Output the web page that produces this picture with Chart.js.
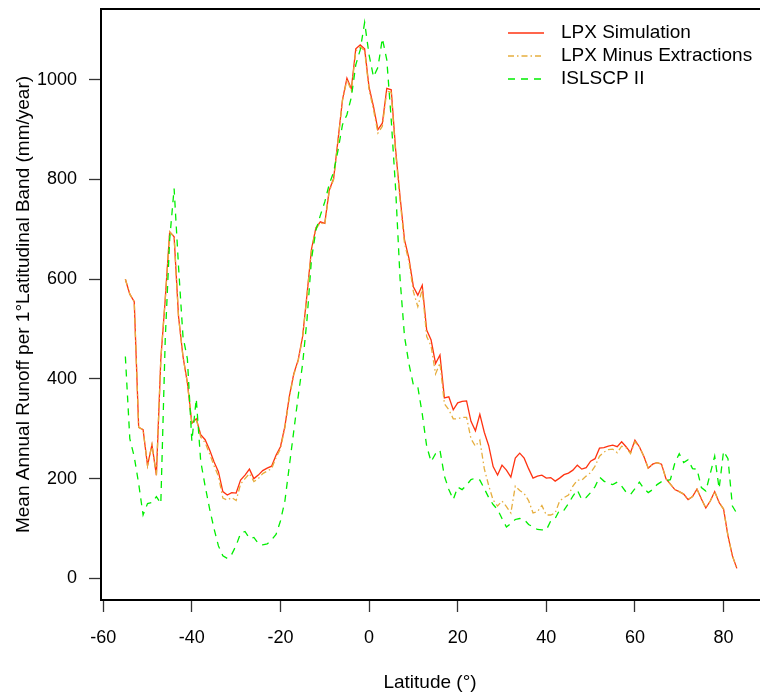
<!DOCTYPE html>
<html>
<head>
<meta charset="utf-8">
<script src="https://cdn.jsdelivr.net/npm/chart.js@4.4.1/dist/chart.umd.min.js"></script>
<style>
  html, body { margin: 0; padding: 0; background: #fff; overflow: hidden; }
  #wrap { width: 760px; height: 694px; }
</style>
</head>
<body>
<div id="wrap"><canvas id="runoffChart" width="760" height="694"></canvas></div>
<script>
// latitude bands, 1 degree each
var latitude = [
  -55,-54,-53,-52,-51,-50,-49,-48,-47,-46,
  -45,-44,-43,-42,-41,-40,-39,-38,-37,-36,
  -35,-34,-33,-32,-31,-30,-29,-28,-27,-26,
  -25,-24,-23,-22,-21,-20,-19,-18,-17,-16,
  -15,-14,-13,-12,-11,-10,-9,-8,-7,-6,
  -5,-4,-3,-2,-1,0,1,2,3,4,
  5,6,7,8,9,10,11,12,13,14,
  15,16,17,18,19,20,21,22,23,24,
  25,26,27,28,29,30,31,32,33,34,
  35,36,37,38,39,40,41,42,43,44,
  45,46,47,48,49,50,51,52,53,54,
  55,56,57,58,59,60,61,62,63,64,
  65,66,67,68,69,70,71,72,73,74,
  75,76,77,78,79,80,81,82,83
];

var lpxSimulation = [
  600,570,555,303,298,226,268,207,440,560,
  695,685,525,445,392,311,320,288,278,258,
  234,214,174,167,172,171,197,207,219,200,
  207,216,221,225,247,264,305,365,410,438,
  485,570,660,703,715,712,778,802,880,960,
  1003,982,1062,1070,1062,985,946,900,913,983,
  980,859,765,679,642,585,568,588,498,478,
  431,448,362,364,338,352,355,356,315,296,
  329,293,266,224,207,227,217,203,241,251,
  241,220,201,205,207,201,202,195,201,208,
  211,217,227,219,222,235,240,261,262,265,
  267,264,274,264,252,277,264,245,221,229,
  232,229,200,189,178,174,169,158,164,179,
  159,141,155,174,152,139,85,45,20
];

var lpxMinusExtractions = [
  600,570,555,303,298,226,268,207,440,560,
  695,685,525,445,392,311,320,283,272,250,
  226,205,161,157,162,156,189,200,210,194,
  200,210,215,220,242,260,302,362,408,436,
  483,568,658,701,713,710,776,800,878,958,
  1000,978,1058,1066,1058,980,940,893,907,977,
  975,853,758,672,635,575,545,580,485,466,
  410,432,350,338,320,320,323,323,280,265,
  277,220,186,157,145,155,144,131,185,176,
  170,156,131,134,146,127,127,131,155,162,
  167,185,197,197,205,212,225,245,253,258,
  259,252,265,262,250,274,264,245,221,229,
  232,229,200,189,178,174,169,158,164,179,
  159,141,155,174,152,139,85,45,20
];

var islscp = [
  445,280,244,190,127,150,152,164,150,480,
  680,782,625,485,440,275,360,235,185,140,
  100,65,45,40,48,66,90,94,80,82,
  70,67,69,77,88,115,155,225,295,365,
  430,520,640,698,728,755,790,815,859,910,
  930,965,1030,1060,1115,1050,1006,1025,1083,1040,
  920,780,600,485,430,388,384,330,265,234,
  250,257,205,178,158,183,178,187,198,201,
  197,180,162,148,138,120,103,110,118,120,
  118,108,103,98,97,97,115,120,137,137,
  150,165,177,158,162,172,184,203,195,190,
  188,193,185,173,168,180,193,180,172,178,
  188,194,196,198,231,250,232,238,220,219,
  182,175,210,245,180,255,240,145,130
];

var xTicks = [-60,-40,-20,0,20,40,60,80];
var yTicks = [0,200,400,600,800,1000];

function toPoints(values){
  return latitude.map(function(lat,i){ return {x:lat, y:values[i]}; });
}

Chart.defaults.font.family = '"Liberation Sans", Arial, Helvetica, sans-serif';
Chart.defaults.color = '#000';

// top frame line + legend inside the plot, like the R figure
var frameLegend = {
  id: 'frameLegend',
  afterDraw: function(chart){
    var ctx = chart.ctx, a = chart.chartArea;
    ctx.save();
    ctx.strokeStyle = '#000';
    ctx.lineWidth = 2;
    ctx.beginPath();
    ctx.moveTo(a.left - 1, a.top);
    ctx.lineTo(chart.width, a.top);
    ctx.stroke();

    ctx.font = '19px "Liberation Sans", Arial, sans-serif';
    ctx.textBaseline = 'middle';
    ctx.textAlign = 'left';
    ctx.fillStyle = '#000';
    chart.data.datasets.forEach(function(ds,i){
      var y = a.top + 24 + i*23;
      ctx.strokeStyle = ds.borderColor;
      ctx.lineWidth = ds.borderWidth;
      ctx.setLineDash(ds.borderDash || []);
      ctx.beginPath();
      ctx.moveTo(a.right - 251, y);
      ctx.lineTo(a.right - 215, y);
      ctx.stroke();
      ctx.setLineDash([]);
      ctx.fillText(ds.label, a.right - 198, y);
    });
    ctx.restore();
  }
};

function plainTick(v){ return String(v); }

var ctx = document.getElementById('runoffChart').getContext('2d');

var runoffChart = new Chart(ctx, {
  type: 'line',
  data: {
    datasets: [{
      label: 'LPX Simulation',
      data: toPoints(lpxSimulation),
      borderColor: '#ff3311',
      borderWidth: 1.3,
      pointRadius: 0,
      tension: 0,
      fill: false,
      order: 3
    }, {
      label: 'LPX Minus Extractions',
      data: toPoints(lpxMinusExtractions),
      borderColor: '#e6ae3e',
      borderWidth: 1.3,
      borderDash: [6,3,1.5,3],
      pointRadius: 0,
      tension: 0,
      fill: false,
      order: 2
    }, {
      label: 'ISLSCP II',
      data: toPoints(islscp),
      borderColor: '#00ee00',
      borderWidth: 1.3,
      borderDash: [7,6],
      pointRadius: 0,
      tension: 0,
      fill: false,
      order: 1
    }]
  },
  options: {
    responsive: false,
    animation: false,
    layout: { padding: { top: 9, right: 1, left: 0, bottom: 0 } },
    plugins: {
      legend: { display: false },
      tooltip: { enabled: false }
    },
    scales: {
      x: {
        type: 'linear',
        min: -60.5,
        max: 88,
        afterBuildTicks: function(s){ s.ticks = xTicks.map(function(v){ return {value:v}; }); },
        afterFit: function(s){ s.height = 94; s.paddingLeft = 0; s.paddingRight = 0; },
        ticks: { font: { size: 18 }, padding: 15, maxRotation: 0, color: '#000', callback: plainTick },
        grid: { drawOnChartArea: false, drawTicks: true, tickLength: 12, tickColor: '#333', tickWidth: 1.3 },
        border: { display: true, color: '#000', width: 2 },
        title: { display: true, text: 'Latitude (°)', font: { size: 19 }, padding: 0, color: '#000' }
      },
      y: {
        type: 'linear',
        min: -43.5,
        max: 1142,
        afterBuildTicks: function(s){ s.ticks = yTicks.map(function(v){ return {value:v}; }); },
        afterFit: function(s){ s.width = 101; s.paddingTop = 0; s.paddingBottom = 0; },
        ticks: { font: { size: 18 }, padding: 12, color: '#000', callback: plainTick },
        grid: { drawOnChartArea: false, drawTicks: true, tickLength: 12, tickColor: '#333', tickWidth: 1.3 },
        border: { display: true, color: '#000', width: 2 },
        title: { display: true, text: 'Mean Annual Runoff per 1°Latitudinal Band (mm/year)', font: { size: 19 }, padding: { top: 12 }, color: '#000' }
      }
    }
  },
  plugins: [frameLegend]
});
</script>
</body>
</html>
